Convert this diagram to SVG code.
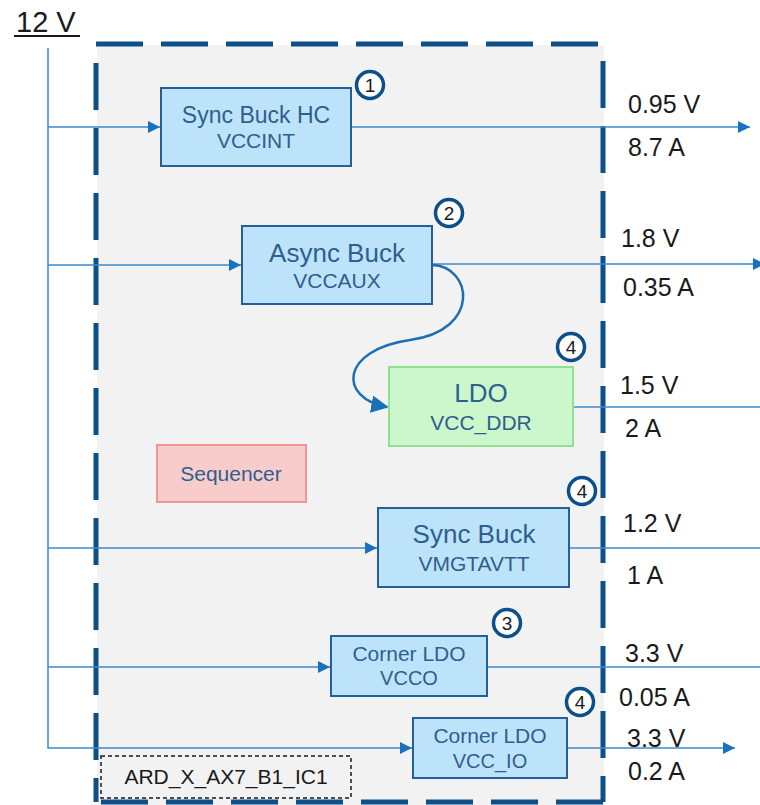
<svg xmlns="http://www.w3.org/2000/svg" width="760" height="805" viewBox="0 0 760 805">
<defs>
<style>
.t{font-family:"Liberation Sans",Arial,sans-serif}
.box{fill:#bde3fa;stroke:#245f98;stroke-width:2}
.bt{font-family:"Liberation Sans",Arial,sans-serif;fill:#2e5f8e;text-anchor:middle}
.out{font-family:"Liberation Sans",Arial,sans-serif;font-size:25px;fill:#1a1a1a}
.ln{fill:none;stroke:#3d8acb;stroke-width:1.5}
.badge circle{fill:#ffffff;stroke:#0d4f89;stroke-width:3.5}
.badge text{font-family:"Liberation Sans",Arial,sans-serif;font-size:19px;fill:#1a1a1a;text-anchor:middle}
</style>
<marker id="ah" viewBox="0 0 10 10" refX="10" refY="5" markerWidth="12" markerHeight="12" markerUnits="userSpaceOnUse" orient="auto">
<path d="M0,0 L10,5 L0,10 z" fill="#1a72bd"/>
</marker>
<marker id="ah2" viewBox="0 0 10 10" refX="9" refY="5" markerWidth="7" markerHeight="7" orient="auto">
<path d="M0,0 L10,5 L0,10 z" fill="#1a6fb5"/>
</marker>
</defs>
<rect width="760" height="805" fill="#ffffff"/>
<g id="ic-boundary">
<rect x="97" y="45" width="507" height="760" fill="#f2f2f2"/>
<path d="M96,44 H603" stroke="#0d4f89" stroke-width="5" stroke-dasharray="47 18" fill="none"/>
<path d="M603,44 V802" stroke="#0d4f89" stroke-width="5" stroke-dasharray="47 18" stroke-dashoffset="-17" fill="none"/>
<path d="M96,63 V802" stroke="#0d4f89" stroke-width="5" stroke-dasharray="47 18" fill="none"/>
<path d="M96,802 H603" stroke="#0d4f89" stroke-width="5" stroke-dasharray="47 18" stroke-dashoffset="-5" fill="none"/>
</g>
<g id="supply-12v">
<text class="t" x="16" y="32" font-size="29" fill="#1a1a1a">12 V</text>
<line x1="14" y1="36" x2="80" y2="36" stroke="#1a1a1a" stroke-width="2"/>
</g>
<g id="connectors">
<path class="ln" d="M48,48 V748 H412" marker-end="url(#ah)"/>
<path class="ln" d="M48,127 H160" marker-end="url(#ah)"/>
<path class="ln" d="M48,265 H241" marker-end="url(#ah)"/>
<path class="ln" d="M48,548 H377" marker-end="url(#ah)"/>
<path class="ln" d="M48,667 H330" marker-end="url(#ah)"/>
<path class="ln" d="M351,127 H750" marker-end="url(#ah)"/>
<path class="ln" d="M432,264 H765" marker-end="url(#ah)"/>
<path class="ln" d="M573,407 H765"/>
<path class="ln" d="M569,548 H765"/>
<path class="ln" d="M487,667 H765"/>
<path class="ln" d="M567,748 H735" marker-end="url(#ah)"/>
<path d="M432,265 C472,266 482,330 410,340 C340,350 338,398 387,407" fill="none" stroke="#1a6fb5" stroke-width="2.5" marker-end="url(#ah2)"/>
</g>
<g id="sync-buck-hc">
<rect class="box" x="161" y="88" width="190" height="78"/>
<text class="bt" x="256" y="123" font-size="23">Sync Buck HC</text>
<text class="bt" x="256" y="148" font-size="21">VCCINT</text>
</g>
<g id="async-buck">
<rect class="box" x="242" y="226" width="190" height="78"/>
<text class="bt" x="337" y="262" font-size="26">Async Buck</text>
<text class="bt" x="337" y="288" font-size="21">VCCAUX</text>
</g>
<g id="ldo">
<rect x="389" y="367" width="184" height="79" fill="#ccf7cc" stroke="#8fe08f" stroke-width="2"/>
<text class="bt" x="481" y="402" font-size="26">LDO</text>
<text class="bt" x="481" y="430" font-size="21">VCC_DDR</text>
</g>
<g id="sequencer">
<rect x="157" y="445" width="149" height="57" fill="#f9cccc" stroke="#f09595" stroke-width="2"/>
<text class="bt" x="231" y="481" font-size="21">Sequencer</text>
</g>
<g id="sync-buck">
<rect class="box" x="378" y="508" width="191" height="79"/>
<text class="bt" x="474" y="543" font-size="26">Sync Buck</text>
<text class="bt" x="474" y="571" font-size="21">VMGTAVTT</text>
</g>
<g id="corner-ldo-vcco">
<rect class="box" x="331" y="636" width="156" height="60"/>
<text class="bt" x="409" y="661" font-size="21">Corner LDO</text>
<text class="bt" x="409" y="685" font-size="20">VCCO</text>
</g>
<g id="corner-ldo-vccio">
<rect class="box" x="413" y="718" width="154" height="60"/>
<text class="bt" x="490" y="743" font-size="21">Corner LDO</text>
<text class="bt" x="490" y="768" font-size="20">VCC_IO</text>
</g>
<g id="ic-label">
<rect x="101" y="756" width="250" height="42" fill="#f2f2f2" stroke="#1a1a1a" stroke-width="1.5" stroke-dasharray="4 3"/>
<text class="t" x="226" y="784" font-size="21" fill="#1a1a1a" text-anchor="middle">ARD_X_AX7_B1_IC1</text>
</g>
<g id="badges">
<g class="badge"><circle cx="370" cy="85" r="13.5"/><text x="370" y="92">1</text></g>
<g class="badge"><circle cx="449" cy="213" r="13.5"/><text x="449" y="220">2</text></g>
<g class="badge"><circle cx="571" cy="347" r="13.5"/><text x="571" y="354">4</text></g>
<g class="badge"><circle cx="582" cy="491" r="13.5"/><text x="582" y="498">4</text></g>
<g class="badge"><circle cx="507" cy="623" r="13.5"/><text x="507" y="630">3</text></g>
<g class="badge"><circle cx="580" cy="702" r="13.5"/><text x="580" y="709">4</text></g>
</g>
<g id="output-labels">
<text class="out" x="628" y="113">0.95 V</text>
<text class="out" x="628" y="156">8.7 A</text>
<text class="out" x="621" y="247">1.8 V</text>
<text class="out" x="623" y="296">0.35 A</text>
<text class="out" x="620" y="394">1.5 V</text>
<text class="out" x="625" y="437">2 A</text>
<text class="out" x="623" y="532">1.2 V</text>
<text class="out" x="627" y="584">1 A</text>
<text class="out" x="625" y="662">3.3 V</text>
<text class="out" x="619" y="706">0.05 A</text>
<text class="out" x="627" y="747">3.3 V</text>
<text class="out" x="628" y="780">0.2 A</text>
</g>
</svg>
